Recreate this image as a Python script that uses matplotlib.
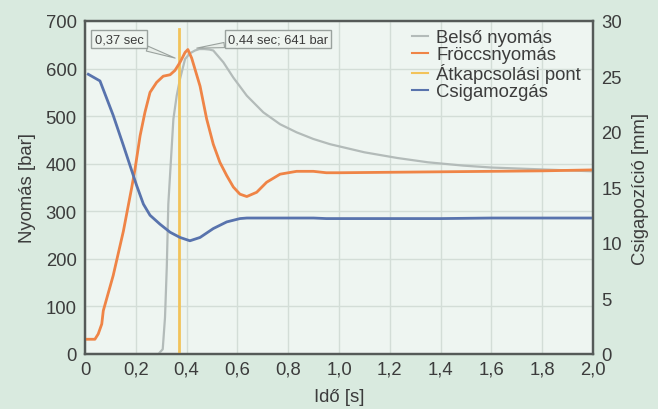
import matplotlib
matplotlib.use("Agg")
import matplotlib.pyplot as plt

plt.rcParams['font.family'] = ['Liberation Sans', 'DejaVu Sans']

# --- data ---
t_inj = [0, 0.039, 0.052, 0.066, 0.072, 0.111, 0.151, 0.184, 0.197, 0.217, 0.236, 0.256,
         0.282, 0.308, 0.335, 0.354, 0.374, 0.394, 0.405, 0.42, 0.453, 0.479, 0.505,
         0.531, 0.558, 0.584, 0.61, 0.637, 0.676, 0.715, 0.768, 0.833, 0.899, 0.95,
         1.0, 1.2, 1.4, 1.6, 1.8, 2.0]
p_inj = [31, 31, 42, 63, 91, 165, 258, 350, 389, 459, 508, 550,
         571, 584, 587, 596, 613, 634, 640, 622, 563, 494, 441,
         403, 375, 351, 336, 331, 340, 361, 378, 384, 384, 381,
         381, 382, 383, 384, 385, 387]

t_cav = [0, 0.289, 0.306, 0.315, 0.322, 0.328, 0.348, 0.361, 0.374, 0.394, 0.413, 0.433,
         0.45, 0.47, 0.49, 0.505, 0.545, 0.584, 0.637, 0.702, 0.768, 0.833, 0.899,
         0.965, 1.1, 1.23, 1.35, 1.49, 1.6, 1.75, 1.9, 2.0]
p_cav = [0, 0, 10, 77, 183, 315, 494, 543, 578, 620, 632, 638,
         641, 641, 640, 638, 613, 581, 543, 508, 483, 466, 452,
         441, 424, 412, 403, 396, 392, 389, 386, 384]

t_screw = [0.013, 0.059, 0.111, 0.151, 0.19, 0.203, 0.23, 0.256, 0.295, 0.335, 0.374, 0.413,
           0.453, 0.505, 0.558, 0.61, 0.637, 0.8, 0.9, 0.95, 1.2, 1.4, 1.6, 1.8, 2.0]
s_screw = [25.2, 24.6, 21.5, 18.8, 16.1, 15.2, 13.5, 12.5, 11.7, 10.97, 10.5, 10.2,
           10.5, 11.3, 11.9, 12.2, 12.25, 12.25, 12.25, 12.2, 12.2, 12.2, 12.25, 12.25, 12.25]

switch_t = 0.37
switch_top = 683

x_ticks = [0, 0.2, 0.4, 0.6, 0.8, 1.0, 1.2, 1.4, 1.6, 1.8, 2.0]
x_labels = ['0', '0,2', '0,4', '0,6', '0,8', '1,0', '1,2', '1,4', '1,6', '1,8', '2,0']
yl_ticks = [0, 100, 200, 300, 400, 500, 600, 700]
yr_ticks = [0, 5, 10, 15, 20, 25, 30]

labels = ['Belső nyomás', 'Fröccsnyomás', 'Átkapcsolási pont', 'Csigamozgás']

# --- style ---
c_gray = '#b3bbb9'
c_orange = '#ef8446'
c_yellow = '#f2c35a'
c_blue = '#5873ad'
txt = '#3c3c3c'
spine_c = '#555a58'

fig = plt.figure(figsize=(6.58, 4.10), dpi=100, facecolor='#d9eadf')
ax = fig.add_axes([85/658, 1-355/410, (593-85)/658, (355-22)/410])
ax.set_facecolor('#eef5f1')
ax2 = ax.twinx()

ax.set_xlim(0, 2.0)
ax.set_ylim(0, 700)
ax2.set_ylim(0, 30)

ax.grid(True, color='#d3ddd7', lw=1.0)
ax.set_axisbelow(True)

l_cav, = ax.plot(t_cav, p_cav, color=c_gray, lw=1.6, zorder=3, clip_on=False)
l_inj, = ax.plot(t_inj, p_inj, color=c_orange, lw=2.0, zorder=4)
l_sw, = ax.plot([switch_t, switch_t], [0, switch_top], color=c_yellow, lw=2.0, zorder=3)
l_scr, = ax2.plot(t_screw, s_screw, color=c_blue, lw=2.0)

ax.set_xticks(x_ticks)
ax.set_xticklabels(x_labels)
ax.set_yticks(yl_ticks)
ax2.set_yticks(yr_ticks)

fs = 13.3
for a in (ax, ax2):
    a.tick_params(length=0, labelsize=fs, labelcolor=txt)
    for s in a.spines.values():
        s.set_color(spine_c)
        s.set_linewidth(1.6)
ax.tick_params(axis='y', pad=6)
ax.tick_params(axis='x', pad=5)
ax2.tick_params(axis='y', pad=6)

ax.set_xlabel('Idő [s]', fontsize=fs, color=txt, labelpad=7)
ax.set_ylabel('Nyomás [bar]', fontsize=fs, color=txt, labelpad=7)
ax2.set_ylabel('Csigapozíció [mm]', fontsize=fs, color=txt, labelpad=7)

box = dict(boxstyle='square,pad=0.25', fc='#eef4ef', ec='#9aa29e', lw=1.0)
ap = dict(arrowstyle='wedge,tail_width=0.4', fc='#e8eee9', ec='#9aa29e', lw=0.8,
          shrinkA=0, shrinkB=0)
ax.annotate('0,37 sec', xy=(0.355, 622), xytext=(0.134, 662), fontsize=9.3, color=txt,
            ha='center', va='center', bbox=box, arrowprops=ap, zorder=6)
ax.annotate('0,44 sec; 641 bar', xy=(0.44, 643), xytext=(0.76, 662), fontsize=9.3,
            color=txt, ha='center', va='center', bbox=box, arrowprops=ap, zorder=6)

leg = fig.legend([l_cav, l_inj, l_sw, l_scr], labels, loc='upper left',
                 bbox_to_anchor=(412/658, 1-30/410), frameon=False, fontsize=fs,
                 handlelength=0.85, handletextpad=0.45, labelspacing=0.0,
                 borderpad=0, borderaxespad=0)
for t in leg.get_texts():
    t.set_color(txt)
for h in leg.legend_handles:
    h.set_linewidth(1.5)

fig.savefig('out.png', dpi=100, facecolor=fig.get_facecolor())
